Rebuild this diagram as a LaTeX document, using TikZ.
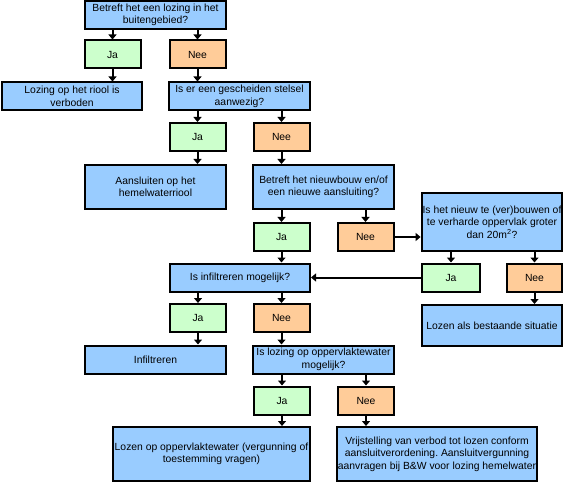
\documentclass[tikz,border=0pt]{standalone}
\usepackage{fontspec}
\setmainfont{Liberation Sans}
\usetikzlibrary{arrows.meta}
\usepackage{xcolor}
\definecolor{lichtblauw}{RGB}{153,204,255}
\definecolor{lichtgroen}{RGB}{204,255,204}
\definecolor{oranje}{RGB}{255,204,153}
\frenchspacing

\begin{document}
\begin{tikzpicture}[
        x=1bp, y=-1bp,
        every node/.style={font=\fontsize{10.4}{12.5}\selectfont, align=center, inner sep=1bp},
        vraag/.style={rectangle, draw, line width=2bp, fill=lichtblauw, minimum width=141bp, minimum height=28bp},
        ja/.style={rectangle, draw, line width=2bp, fill=lichtgroen, minimum width=56bp, minimum height=28bp},
        nee/.style={rectangle, draw, line width=2bp, fill=oranje, minimum width=56bp, minimum height=28bp},
        pijl/.style={line width=2bp, -{Triangle[length=5bp,width=8bp]}}
      ]
      \useasboundingbox (0,0) rectangle (577,486);

      % Buitengebied
      \node[vraag] (q1) at (155.5,15) {Betreft het een lozing in het\\buitengebied?};
      \node[ja] (ja1) at (112.5,54.5) {Ja};
      \node[nee] (nee1) at (197.5,54.5) {Nee};
      \node[vraag, minimum width=140bp] (a1) at (72,96.5) {Lozing op het riool is\\verboden};

      % Gescheiden stelsel
      \node[vraag] (q2) at (239.5,96.5) {Is er een gescheiden stelsel\\aanwezig?};
      \node[ja] (ja2) at (197.5,137) {Ja};
      \node[nee] (nee2) at (281.5,137) {Nee};
      \node[vraag, minimum height=44bp] (a2) at (155.5,187) {Aansluiten op het\\hemelwaterriool};

      % Nieuwbouw
      \node[vraag, minimum height=44bp] (q3) at (323.5,187) {Betreft het nieuwbouw en/of\\een nieuwe aansluiting?};
      \node[ja] (ja3) at (281.5,237) {Ja};
      \node[nee] (nee3) at (365.5,237) {Nee};

      % Verhard oppervlak
      \node[vraag, minimum width=140bp, minimum height=58bp] (q4) at (492,222) {Is het nieuw te (ver)bouwen of\\te verharde oppervlak groter\\dan 20m\textsuperscript{2}?};
      \node[ja, minimum width=58bp] (ja4) at (451,277.5) {Ja};
      \node[nee, minimum width=55bp] (nee4) at (534.5,277.5) {Nee};
      \node[vraag, minimum width=140bp, minimum height=41bp] (a4) at (492,325.5) {Lozen als bestaande situatie};

      % Infiltratie
      \node[vraag, minimum width=140bp] (q5) at (240,277.5) {Is infiltreren mogelijk?};
      \node[ja] (ja5) at (198,318) {Ja};
      \node[nee] (nee5) at (281.5,318) {Nee};
      \node[vraag] (a5) at (155.5,359.5) {Infiltreren};

      % Oppervlaktewater
      \node[vraag] (q6) at (323.5,359.5) {Is lozing op oppervlaktewater\\mogelijk?};
      \node[ja] (ja6) at (282,400.5) {Ja};
      \node[nee] (nee6) at (366,400.5) {Nee};
      \node[vraag, minimum width=197bp, minimum height=54bp] (a6) at (211.5,454) {Lozen op oppervlaktewater (vergunning of\\toestemming vragen)};
      \node[vraag, minimum width=198bp, minimum height=54bp] (a7) at (437,454) {Vrijstelling van verbod tot lozen conform\\aansluitverordening. Aansluitvergunning\\aanvragen bij B\&W voor lozing hemelwater};

      % Pijlen vraag -> antwoord
      \draw[pijl] (q1.south -| ja1) -- (ja1.north);
      \draw[pijl] (q1.south -| nee1) -- (nee1.north);
      \draw[pijl] (q2.south -| ja2) -- (ja2.north);
      \draw[pijl] (q2.south -| nee2) -- (nee2.north);
      \draw[pijl] (q3.south -| ja3) -- (ja3.north);
      \draw[pijl] (q3.south -| nee3) -- (nee3.north);
      \draw[pijl] (q4.south -| ja4) -- (ja4.north);
      \draw[pijl] (q4.south -| nee4) -- (nee4.north);
      \draw[pijl] (q5.south -| ja5) -- (ja5.north);
      \draw[pijl] (q5.south -| nee5) -- (nee5.north);
      \draw[pijl] (q6.south -| ja6) -- (ja6.north);
      \draw[pijl] (q6.south -| nee6) -- (nee6.north);

      % Pijlen antwoord -> vervolg
      \draw[pijl] (ja1.south) -- (ja1 |- a1.north);
      \draw[pijl] (nee1.south) -- (nee1 |- q2.north);
      \draw[pijl] (ja2.south) -- (ja2 |- a2.north);
      \draw[pijl] (nee2.south) -- (nee2 |- q3.north);
      \draw[pijl] (ja3.south) -- (ja3 |- q5.north);
      \draw[pijl] (nee3.east) -- (nee3 -| q4.west);
      \draw[pijl] (ja4.west) -- (ja4 -| q5.east);
      \draw[pijl] (nee4.south) -- (nee4 |- a4.north);
      \draw[pijl] (ja5.south) -- (ja5 |- a5.north);
      \draw[pijl] (nee5.south) -- (nee5 |- q6.north);
      \draw[pijl] (ja6.south) -- (ja6 |- a6.north);
      \draw[pijl] (nee6.south) -- (nee6 |- a7.north);

\end{tikzpicture}
\end{document}
